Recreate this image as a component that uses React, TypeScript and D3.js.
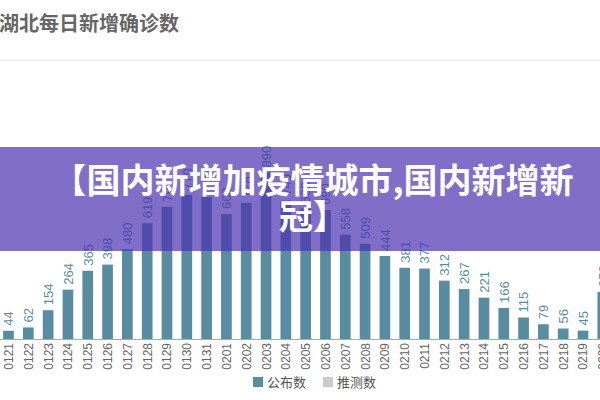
import { useEffect, useRef } from 'react';
import * as d3 from 'd3';

const dates = [
  '0121', '0122', '0123', '0124', '0125', '0126', '0127', '0128', '0129', '0130',
  '0131', '0201', '0202', '0203', '0204', '0205', '0206', '0207', '0208', '0209',
  '0210', '0211', '0212', '0213', '0214', '0215', '0216', '0217', '0218', '0219', '0220',
];
const published = [
  44, 62, 154, 264, 365, 398, 480, 619, 707, 770,
  760, 668, 728, 890, 740, 698, 690, 558, 509, 444,
  381, 377, 312, 267, 221, 166, 115, 79, 56, 45, 252,
];
const legendLabels = ['公布数', '推测数'];
const title = '湖北每日新增确诊数';
const bannerLines = ['【国内新增加疫情城市,国内新增新', '冠】'];

export default function App() {
  const svgRef = useRef<SVGSVGElement>(null);

  useEffect(() => {
    if (!svgRef.current) return;
    const svg = d3.select(svgRef.current);
    svg.selectAll('*').remove();

    const width = 600;
    const height = 400;
    const font = '"Noto Sans CJK SC", "Noto Sans", sans-serif';
    const barColor = '#5a8ca1';

    svg.append('rect').attr('width', width).attr('height', height).attr('fill', '#fff');

    // 제목
    svg.append('text')
      .attr('x', -1)
      .attr('y', 31)
      .attr('fill', '#666')
      .attr('font-size', '20px')
      .attr('font-weight', '700')
      .attr('font-family', font)
      .text(title);

    svg.append('line')
      .attr('x1', 0).attr('x2', width)
      .attr('y1', 60.5).attr('y2', 60.5)
      .attr('stroke', '#e6e6e6');

    const x = d3.scaleBand<string>()
      .domain(dates)
      .range([-1.4, -1.4 + dates.length * 19.81])
      .paddingInner(0.46)
      .paddingOuter(0.23);

    const y = d3.scaleLinear().domain([0, 1000]).range([339, 152]);

    const data = dates.map((d, i) => ({ date: d, value: published[i] }));

    svg.append('g').selectAll('rect')
      .data(data)
      .enter()
      .append('rect')
      .attr('x', d => x(d.date)!)
      .attr('y', d => y(d.value))
      .attr('width', x.bandwidth())
      .attr('height', d => y(0) - y(d.value))
      .attr('fill', barColor);

    // 값 레이블
    svg.append('g').selectAll('text')
      .data(data)
      .enter()
      .append('text')
      .attr('transform', d => `translate(${x(d.date)! + x.bandwidth() / 2 + 4.8},${y(d.value) - 5}) rotate(-90)`)
      .attr('fill', barColor)
      .attr('font-size', '13px')
      .attr('font-family', 'Liberation Sans, Arial, sans-serif')
      .text(d => d.value);

    // x축
    svg.append('line')
      .attr('x1', 0).attr('x2', width)
      .attr('y1', 339.5).attr('y2', 339.5)
      .attr('stroke', '#aaa');

    svg.append('g').selectAll('text')
      .data(dates)
      .enter()
      .append('text')
      .attr('transform', d => `translate(${x(d)! + x.bandwidth() / 2 + 4.5},${343}) rotate(-90)`)
      .attr('text-anchor', 'end')
      .attr('fill', '#666')
      .attr('font-size', '12px')
      .attr('font-family', 'Liberation Sans, Arial, sans-serif')
      .text(d => d);

    // 범례
    const legendColors = [barColor, '#cccccc'];
    const legend = svg.append('g').selectAll('g')
      .data(legendLabels)
      .enter()
      .append('g')
      .attr('transform', (d, i) => `translate(${253 + i * 70},377)`);

    legend.append('rect')
      .attr('width', 10)
      .attr('height', 10)
      .attr('fill', (d, i) => legendColors[i]);

    legend.append('text')
      .attr('x', 14)
      .attr('y', 10)
      .attr('fill', '#555')
      .attr('font-size', '13px')
      .attr('font-family', font)
      .text(d => d);

    // 배너
    svg.append('rect')
      .attr('x', 0).attr('y', 147)
      .attr('width', width).attr('height', 104)
      .attr('fill', 'rgb(74,48,176)')
      .attr('opacity', 0.7);

    svg.append('g').selectAll('text')
      .data(bannerLines)
      .enter()
      .append('text')
      .attr('x', 313)
      .attr('y', (d, i) => 193 + i * 36)
      .attr('text-anchor', 'middle')
      .attr('fill', '#fff')
      .attr('font-size', '34px')
      .attr('font-weight', '700')
      .attr('font-family', font)
      .text(d => d);
  }, []);

  return (
    <svg
      ref={svgRef}
      width={600}
      height={400}
      style={{ position: 'absolute', left: 0, top: 0, display: 'block' }}
    />
  );
}
